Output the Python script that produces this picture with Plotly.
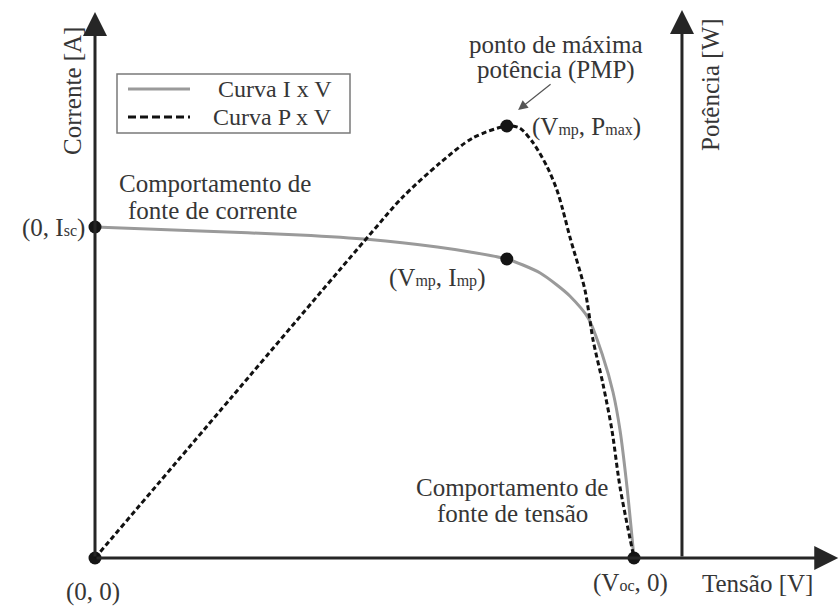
import plotly.graph_objects as go

# ---- data (arbitrary units, Voc = 10) ----
V_iv = [0, 1.95, 3.80, 5.10, 6.35, 6.96, 7.64, 7.94, 8.26, 8.57, 8.81, 9.15, 9.42, 9.61, 9.74, 9.87, 10.0]
I_iv = [3.31, 3.27, 3.23, 3.185, 3.11, 3.06, 2.99, 2.93, 2.85, 2.73, 2.62, 2.40, 2.02, 1.66, 1.28, 0.71, 0.0]

V_pv = [0, 2.55, 5.10, 5.71, 6.40, 7.01, 7.64, 7.88, 8.13, 8.39, 8.57, 8.68, 8.81, 9.09, 9.24, 9.42, 9.59, 9.74, 10.0]
P_pv = [0, 9.36, 18.72, 20.89, 22.86, 24.31, 25.0, 24.88, 24.02, 22.63, 21.30, 20.14, 18.58, 15.51, 12.62, 10.13, 7.41, 4.11, 0.0]

Isc, Voc = 3.31, 10.0
Vmp, Imp, Pmax = 7.64, 2.99, 25.0
V_paxis = 10.89          # position of the power axis
legend_names = ["Curva I x V", "Curva P x V"]

FONT = "Liberation Serif, DejaVu Serif, Times New Roman, serif"
TXT = "#363636"
AX = "#262626"
FS = 25
SUB = 16
IV_COLOR = "#9a9a9a"
PV_COLOR = "#111111"
PV_DASH = "5px,3px"

fig = go.Figure()
fig.add_trace(go.Scatter(x=V_iv, y=I_iv, mode="lines", name=legend_names[0], showlegend=False,
                         line=dict(color=IV_COLOR, width=3, shape="spline", smoothing=0.8)))
fig.add_trace(go.Scatter(x=V_pv, y=P_pv, mode="lines", name=legend_names[1], yaxis="y2", showlegend=False,
                         line=dict(color=PV_COLOR, width=3, dash=PV_DASH, shape="spline", smoothing=0.8)))
fig.add_trace(go.Scatter(x=[0, Vmp, 0, Voc], y=[Isc, Imp, 0, 0], mode="markers", showlegend=False,
                         marker=dict(color="#151515", size=13), cliponaxis=False))
fig.add_trace(go.Scatter(x=[Vmp], y=[Pmax], mode="markers", showlegend=False, yaxis="y2",
                         marker=dict(color="#151515", size=13), cliponaxis=False))

ann = []
# axes as arrows
for (x0, y0, x1, y1) in [(0, 0, 0, 5.46), (0, 0, 13.79, 0), (V_paxis, 0, V_paxis, 5.48)]:
    ann.append(dict(x=x1, y=y1, ax=x0, ay=y0, xref="x", yref="y", axref="x", ayref="y",
                    text="", showarrow=True, arrowhead=2, arrowsize=1.6, arrowwidth=3,
                    arrowcolor=AX, standoff=0, startstandoff=0))
# PMP pointer
ann.append(dict(x=7.85, y=4.48, ax=8.48, ay=4.75, xref="x", yref="y", axref="x", ayref="y",
                text="", showarrow=True, arrowhead=2, arrowsize=1.6, arrowwidth=1.2,
                arrowcolor="#555555", standoff=0))

def T(x, y, text, xanchor="center", angle=0, size=FS, xref="x", yref="y"):
    ann.append(dict(x=x, y=y, xref=xref, yref=yref, text=text, showarrow=False,
                    xanchor=xanchor, yanchor="middle", textangle=angle,
                    font=dict(family=FONT, size=size, color=TXT)))

def s(t):
    return f"<span style='font-size:{SUB}px'>{t}</span>"

T(-0.427, 4.67, "Corrente [A]", angle=-90)
T(11.41, 4.73, "Potência [W]", angle=-90)
T(8.553, 5.14, "ponto de máxima")
T(8.553, 4.88, "potência (PMP)")
T(8.07, 4.31, f"(V{s('mp')}, P{s('max')})", xanchor="left")
T(6.345, 2.80, f"(V{s('mp')}, I{s('mp')})")
T(-0.148, 3.30, f"(0, I{s('sc')})", xanchor="right")
T(2.226, 3.75, "Comportamento de")
T(2.189, 3.48, "fonte de corrente")
T(7.737, 0.71, "Comportamento de")
T(7.737, 0.45, "fonte de tensão")
T(-0.037, -0.34, "(0, 0)")
T(9.926, -0.25, f"(V{s('oc')}, 0)")
T(12.30, -0.25, "Tensão [V]")

# legend box (drawn by hand to match the reference's compact layout)
W, H = 839, 608
px = lambda v: v / W
py = lambda v: 1 - v / H
shapes = [
    dict(type="rect", xref="paper", yref="paper", x0=px(117), x1=px(350), y0=py(133), y1=py(74),
         line=dict(color="#7a7a7a", width=1.5), fillcolor="white", layer="above"),
    dict(type="line", xref="paper", yref="paper", x0=px(128), x1=px(190), y0=py(89), y1=py(89),
         line=dict(color=IV_COLOR, width=3), layer="above"),
    dict(type="line", xref="paper", yref="paper", x0=px(128), x1=px(190), y0=py(117), y1=py(117),
         line=dict(color=PV_COLOR, width=3, dash="8px,4px"), layer="above"),
]
T(px(334), py(89), legend_names[0], xanchor="right", size=24, xref="paper", yref="paper")
T(px(334), py(117), legend_names[1], xanchor="right", size=24, xref="paper", yref="paper")

fig.update_layout(
    width=W, height=H,
    margin=dict(l=0, r=0, t=0, b=0),
    paper_bgcolor="white", plot_bgcolor="white",
    font=dict(family=FONT),
    xaxis=dict(range=[-1.7625, 13.8033], visible=False, fixedrange=True),
    yaxis=dict(range=[-0.5, 5.58], visible=False, fixedrange=True),
    yaxis2=dict(range=[-2.894, 32.292], visible=False, overlaying="y", fixedrange=True),
    annotations=ann,
    shapes=shapes,
    showlegend=False,
)

fig.write_html("out.html")
